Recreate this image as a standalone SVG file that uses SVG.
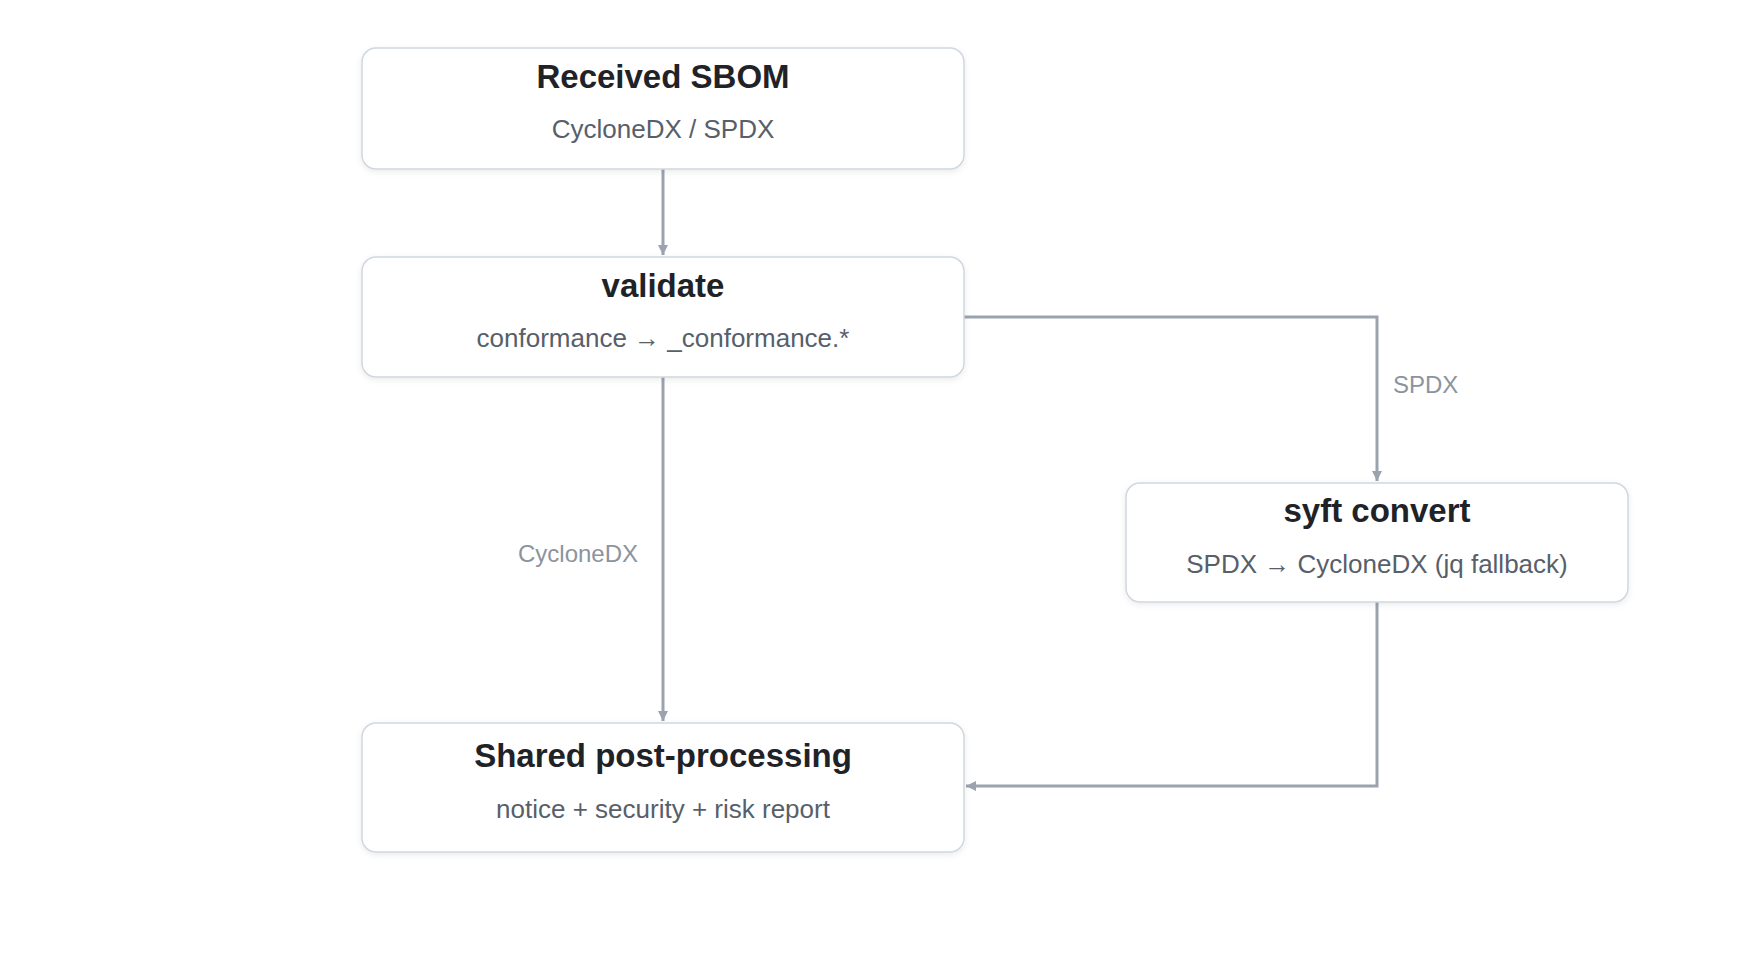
<svg xmlns="http://www.w3.org/2000/svg" width="1760" height="960" viewBox="0 0 1760 960">
<defs>
<marker id="arr" viewBox="0 0 10 10" refX="10" refY="5" markerWidth="10" markerHeight="10" markerUnits="userSpaceOnUse" orient="auto"><path d="M0,0 L10,5 L0,10 z" fill="#9aa3ae" transform="scale(1)"/></marker>
<filter id="sh" x="-5%" y="-10%" width="110%" height="130%"><feDropShadow dx="0" dy="2" stdDeviation="3" flood-color="#000" flood-opacity="0.08"/></filter>
</defs>
<style>
.box{fill:#fff;stroke:#d0d7de;stroke-width:1.5;filter:url(#sh)}
.t{font-family:"Liberation Sans",Arial,sans-serif;font-size:33px;font-weight:bold;fill:#1f2328;text-anchor:middle}
.s{font-family:"Liberation Sans",Arial,sans-serif;font-size:26px;fill:#57606a;text-anchor:middle}
.l{font-family:"Liberation Sans",Arial,sans-serif;font-size:24px;fill:#8b949e}
.c{fill:none;stroke:#9aa3ae;stroke-width:3}
</style>
<rect width="1760" height="960" fill="#fff"/>
<g id="connectors">
<path class="c" d="M663,169 V255" marker-end="url(#arr)"/>
<path class="c" d="M864,317 H1377 V481" marker-end="url(#arr)"/>
<path class="c" d="M663,377 V721" marker-end="url(#arr)"/>
<path class="c" d="M1377,602 V786 H966" marker-end="url(#arr)"/>
<text class="l" x="1393" y="393">SPDX</text>
<text class="l" x="578" y="562" text-anchor="middle">CycloneDX</text>
</g>
<g id="received">
<rect class="box" x="362" y="48" width="602" height="121" rx="14"/>
<text class="t" x="663" y="88">Received SBOM</text>
<text class="s" x="663" y="138">CycloneDX / SPDX</text>
</g>
<g id="validate">
<rect class="box" x="362" y="257" width="602" height="120" rx="14"/>
<text class="t" x="663" y="297">validate</text>
<text class="s" x="663" y="347">conformance → _conformance.*</text>
</g>
<g id="syft">
<rect class="box" x="1126" y="483" width="502" height="119" rx="14"/>
<text class="t" x="1377" y="522">syft convert</text>
<text class="s" x="1377" y="573">SPDX → CycloneDX (jq fallback)</text>
</g>
<g id="shared">
<rect class="box" x="362" y="723" width="602" height="129" rx="14"/>
<text class="t" x="663" y="767">Shared post-processing</text>
<text class="s" x="663" y="818">notice + security + risk report</text>
</g>
</svg>
